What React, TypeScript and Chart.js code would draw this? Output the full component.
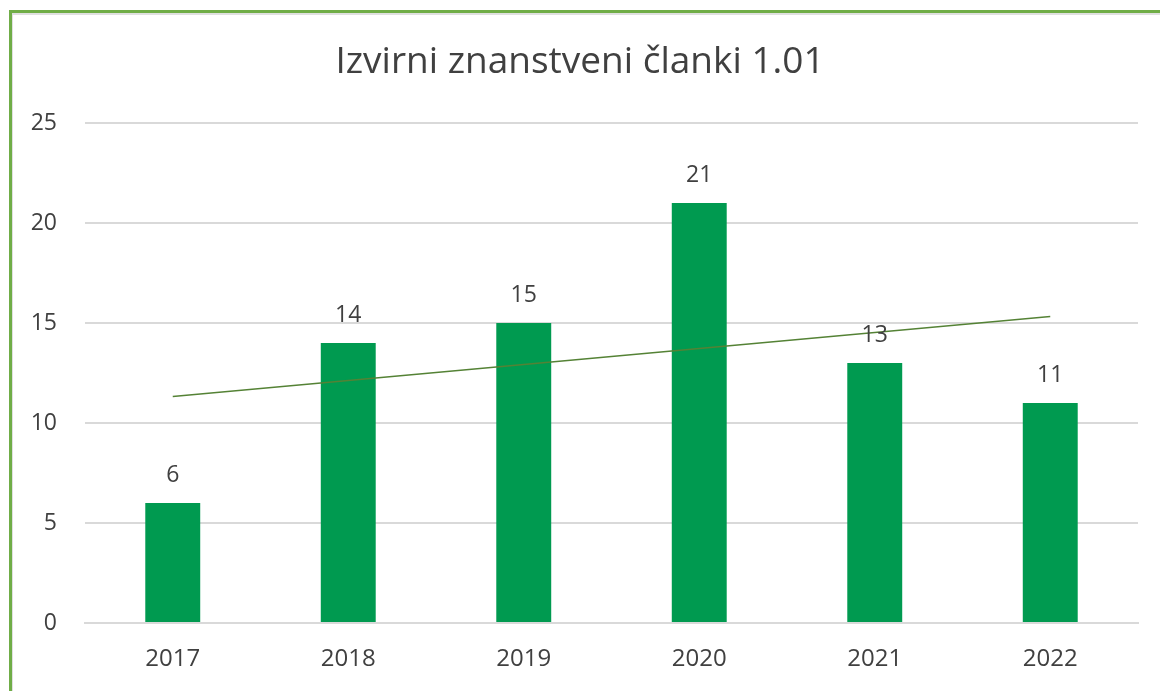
import React, { useEffect, useRef } from "react";
import { Chart, registerables } from "chart.js";

Chart.register(...registerables);

const categories = ["2017", "2018", "2019", "2020", "2021", "2022"];
const articleCounts = [6, 14, 15, 21, 13, 11];
const trendValues = [11.33, null, null, null, null, 15.33];
const yTicks = [0, 5, 10, 15, 20, 25];
const titleText = "Izvirni znanstveni članki 1.01";

const FONT = "'Open Sans', 'Noto Sans', 'Liberation Sans', sans-serif";
const TEXT_COLOR = "#404040";

const valueLabels = {
  id: "valueLabels",
  afterDatasetsDraw(chart: any) {
    const meta = chart.getDatasetMeta(0);
    const ctx = chart.ctx;
    ctx.save();
    ctx.font = `23px ${FONT}`;
    ctx.fillStyle = TEXT_COLOR;
    ctx.textAlign = "center";
    ctx.textBaseline = "middle";
    meta.data.forEach((el: any, i: number) => {
      ctx.fillText(String(articleCounts[i]), el.x, el.y - 28);
    });
    ctx.restore();
  },
};

export default function App() {
  const ref = useRef<HTMLCanvasElement | null>(null);

  useEffect(() => {
    if (!ref.current) return;
    const chart = new Chart(ref.current, {
      type: "bar",
      data: {
        labels: categories,
        datasets: [
          {
            type: "bar",
            data: articleCounts,
            backgroundColor: "#009a50",
            borderWidth: 0,
            categoryPercentage: 1,
            barPercentage: 0.313,
            order: 2,
          },
          {
            type: "line",
            data: trendValues as any,
            borderColor: "#548235",
            borderWidth: 1.5,
            pointRadius: 0,
            spanGaps: true,
            fill: false,
            order: 1,
          },
        ],
      },
      options: {
        responsive: false,
        animation: false,
        layout: { padding: { left: 22, right: 22, top: 0, bottom: 0 } },
        plugins: {
          legend: { display: false },
          tooltip: { enabled: false },
          title: {
            display: true,
            text: titleText,
            color: TEXT_COLOR,
            font: { family: FONT, size: 37, weight: "normal", lineHeight: 1.2 },
            padding: { top: 40, bottom: 38.6 },
          },
        },
        scales: {
          x: {
            grid: { display: false, drawTicks: false },
            border: { display: true, color: "#d9d9d9", width: 2 },
            ticks: {
              color: TEXT_COLOR,
              font: { family: FONT, size: 24 },
              padding: 22,
            },
            afterFit(scale: any) {
              scale.height = 68;
            },
          },
          y: {
            min: 0,
            max: 25,
            afterBuildTicks(scale: any) {
              scale.ticks = yTicks.map((v) => ({ value: v }));
            },
            grid: { color: "#d9d9d9", lineWidth: 2, drawTicks: false },
            border: { display: false },
            ticks: {
              color: TEXT_COLOR,
              font: { family: FONT, size: 23 },
              padding: 28,
            },
            afterFit(scale: any) {
              scale.width = 63;
            },
          },
        },
      },
      plugins: [valueLabels],
    });
    return () => chart.destroy();
  }, []);

  return (
    <div
      style={{
        position: "fixed",
        left: 0,
        top: 0,
        width: 1160,
        height: 691,
        overflow: "hidden",
        background: "#fff",
      }}
    >
      <div
        style={{
          position: "absolute",
          left: 9,
          top: 10,
          width: 2000,
          height: 2000,
          borderLeft: "3px solid #70ad47",
          borderTop: "3px solid #70ad47",
          boxShadow: "inset 1px 2px 0 #e0e0e0",
        }}
      />
      <canvas
        ref={ref}
        width={1160}
        height={691}
        style={{ position: "absolute", left: 0, top: 0 }}
      />
    </div>
  );
}
